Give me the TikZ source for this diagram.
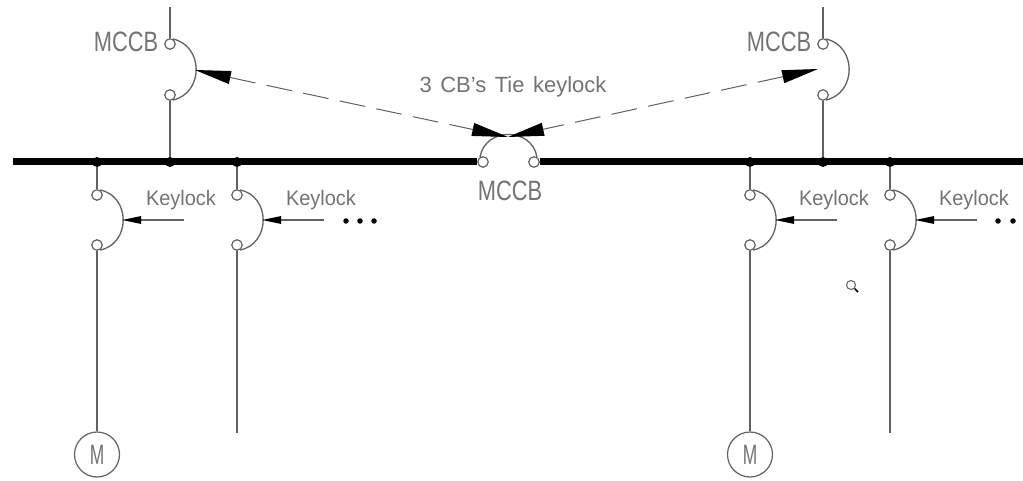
\documentclass[tikz,border=0pt]{standalone}
\usepackage{fontspec}
\setmainfont{Liberation Sans}
\usetikzlibrary{arrows.meta}
\definecolor{wire}{gray}{0.38}
\definecolor{lbl}{gray}{0.45}
\tikzset{
  x=1pt,y=-1pt,
  wireline/.style={draw=wire,line width=1.3pt},
  busbar/.style={draw=black,line width=7pt},
  contact/.style={circle,draw=wire,fill=white,line width=1.2pt,inner sep=0pt,minimum size=10.5pt},
  junction/.style={circle,fill=black,inner sep=0pt,minimum size=10pt},
  lockarrow/.style={wireline,-{Triangle[length=19pt,width=7.5pt,fill=black,color=black]}},
  tiearrow/.style={draw=wire,line width=1pt,dash pattern=on 26pt off 11.4pt,
     {Triangle[length=36pt,width=13pt,fill=black,color=black]}-{Triangle[length=36pt,width=13pt,fill=black,color=black]}},
  motor/.style={circle,draw=wire,fill=white,line width=1.2pt,inner sep=0pt,minimum size=45pt},
  txt/.style={text=lbl,inner sep=0pt},
  dotmark/.style={circle,fill=black,inner sep=0pt,minimum size=5.5pt}
}
\newcommand{\klabel}[1]{\fontsize{21}{21}\selectfont\scalebox{0.95}[1]{#1}}
\newcommand{\mlabel}[1]{\fontsize{28}{28}\selectfont\scalebox{0.78}[1]{#1}}
\newcommand{\feeder}[2]{%
  \node[junction] (#1j) at (#2,162) {};
  \node[contact] (#1t) at (#2,195) {};
  \node[contact] (#1b) at (#2,245) {};
  \draw[wireline] (#1j) -- (#1t);
  \draw[wireline] (#1t.60) .. controls +(31,6) and +(31,-6) .. (#1b.-60);
  \coordinate (#1tip) at (#2+25,220);
  \coordinate (#1tail) at (#2+87,220);
  \draw[lockarrow] (#1tail) -- (#1tip);
  \node[txt] (#1k) at (#2+84,200) {\klabel{Keylock}};
}
\newcommand{\incomer}[2]{%
  \node[junction] (#1j) at (#2,162) {};
  \node[contact] (#1t) at (#2,44) {};
  \node[contact] (#1b) at (#2,95) {};
  \coordinate (#1top) at (#2,7);
  \draw[wireline] (#1top) -- (#1t);
  \draw[wireline] (#1b) -- (#1j);
  \draw[wireline] (#1t.60) .. controls +(31,7) and +(31,-7) .. (#1b.-60);
  \node[txt] (#1m) at (#2-44,42) {\mlabel{MCCB}};
}
\begin{document}
\begin{tikzpicture}
\useasboundingbox (0,0) rectangle (1023,481);
\clip (0,0) rectangle (1023,481);
% bus
\coordinate (busL) at (13,162);
\coordinate (busR) at (1023,162);
\node[contact] (tieL) at (483,162) {};
\node[contact] (tieR) at (534,162) {};
\draw[busbar] (busL) -- (tieL);
\draw[busbar] (tieR) -- (busR);
\draw[wireline] (tieL.120) .. controls +(5,-30) and +(-5,-30) .. (tieR.60);
\node[txt] (tieM) at (510,191) {\mlabel{MCCB}};
% incomers
\incomer{A}{170}
\incomer{B}{823}
% feeders
\feeder{f}{97}
\feeder{g}{237}
\feeder{h}{750}
\feeder{i}{890}
% motors and open ends
\node[motor] (mf) at (97,454.5) {\fontsize{28}{28}\selectfont\textcolor{lbl}{\scalebox{0.62}[1]{M}}};
\node[motor] (mh) at (750,454.5) {\fontsize{28}{28}\selectfont\textcolor{lbl}{\scalebox{0.62}[1]{M}}};
\draw[wireline] (fb) -- (mf);
\draw[wireline] (hb) -- (mh);
\coordinate (gend) at (237,433);
\coordinate (iend) at (890,433);
\draw[wireline] (gb) -- (gend);
\draw[wireline] (ib) -- (iend);
% continuation dots
\node[dotmark] (d1) at (346,221) {};
\node[dotmark] (d2) at (360,221) {};
\node[dotmark] (d3) at (374,221) {};
\node[dotmark] (d4) at (998,221) {};
\node[dotmark] (d5) at (1013,221) {};
% tie keylock
\coordinate (lockA) at (195,70);
\coordinate (lockB) at (818,69);
\coordinate (lockC) at (508,137);
\draw[tiearrow] (lockA) -- (lockC);
\draw[tiearrow] (lockB) -- (lockC);
\node[txt] (tieT) at (513,87) {\fontsize{22}{22}\selectfont\spaceskip=8.5pt\relax 3 CB's Tie keylock};
% cursor
\node[circle,draw=wire,fill=white,line width=1pt,inner sep=0pt,minimum size=9pt] (lens) at (851,285) {};
\coordinate (lensEnd) at (858,292);
\draw[black,line width=1.6pt] (lens) -- (lensEnd);
\end{tikzpicture}
\end{document}
